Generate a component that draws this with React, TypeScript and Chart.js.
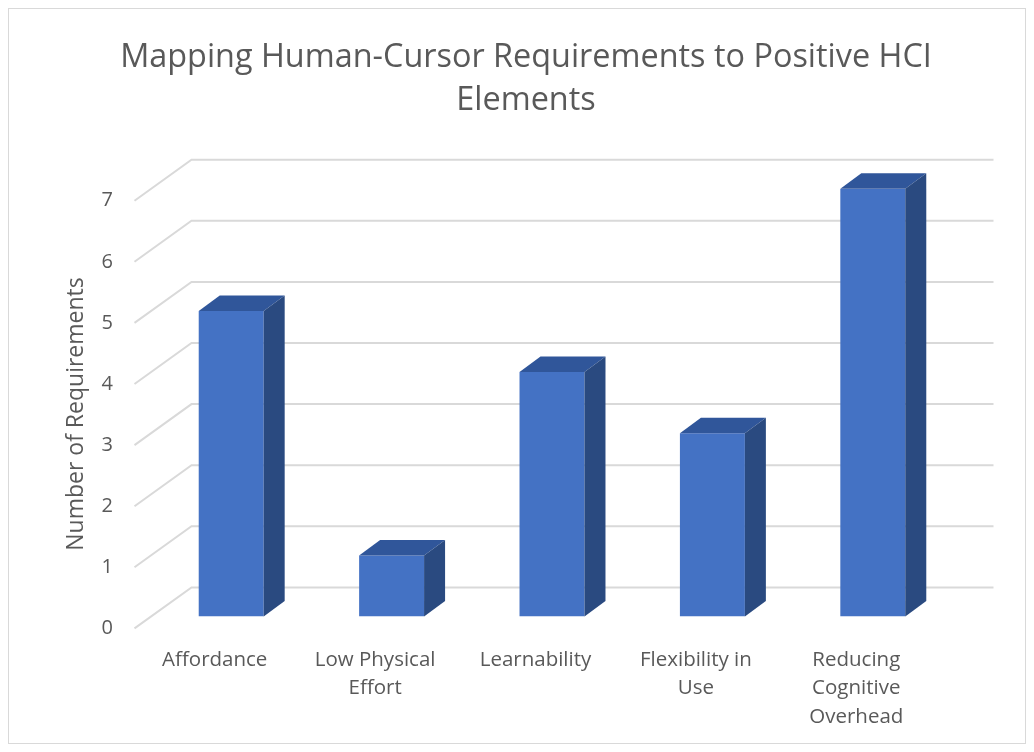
import { useEffect, useRef } from "react";
import { Chart, registerables } from "chart.js";

Chart.register(...registerables);

const categories: string[][] = [
  ["Affordance"],
  ["Low Physical", "Effort"],
  ["Learnability"],
  ["Flexibility in", "Use"],
  ["Reducing", "Cognitive", "Overhead"],
];
const values: number[] = [5, 1, 4, 3, 7];
const yMin = 0;
const yMax = 7;
const yStep = 1;
const titleLines: string[] = ["Mapping Human-Cursor Requirements to Positive HCI", "Elements"];
const yAxisTitle = "Number of Requirements";

const TEXT = "#595959";
const GRID = "#d9d9d9";
const FONT = '"Open Sans", sans-serif';

// depth offsets relative to the bar front plane
const FRONT = { dx: -16.5, dy: 11.9 };
const BACK = { dx: 40.5, dy: -29.1 };
const BAR_D = { dx: 21, dy: -15.5 };

const depthPlugin = {
  id: "depth3d",
  beforeDatasetsDraw(chart: any) {
    const { ctx, chartArea } = chart;
    const ys = chart.scales.y;
    ctx.save();
    ctx.strokeStyle = GRID;
    ctx.lineWidth = 2;
    ys.ticks.forEach((t: any) => {
      const py = ys.getPixelForValue(t.value);
      ctx.beginPath();
      ctx.moveTo(chartArea.left + FRONT.dx, py + FRONT.dy);
      ctx.lineTo(chartArea.left + BACK.dx, py + BACK.dy);
      ctx.lineTo(chartArea.right + BACK.dx, py + BACK.dy);
      ctx.stroke();
    });
    ctx.restore();
  },
  afterDatasetsDraw(chart: any) {
    const { ctx } = chart;
    const meta = chart.getDatasetMeta(0);
    ctx.save();
    meta.data.forEach((bar: any) => {
      const { x, y, base, width } = bar.getProps(["x", "y", "base", "width"], true);
      const l = x - width / 2;
      const r = x + width / 2;
      // top face
      ctx.fillStyle = "#30569a";
      ctx.beginPath();
      ctx.moveTo(l, y);
      ctx.lineTo(r, y);
      ctx.lineTo(r + BAR_D.dx, y + BAR_D.dy);
      ctx.lineTo(l + BAR_D.dx, y + BAR_D.dy);
      ctx.closePath();
      ctx.fill();
      // side face
      ctx.fillStyle = "#2a4a80";
      ctx.beginPath();
      ctx.moveTo(r, y);
      ctx.lineTo(r + BAR_D.dx, y + BAR_D.dy);
      ctx.lineTo(r + BAR_D.dx, base + BAR_D.dy);
      ctx.lineTo(r, base);
      ctx.closePath();
      ctx.fill();
    });
    ctx.restore();
  },
  afterDraw(chart: any) {
    const { ctx } = chart;
    ctx.save();
    ctx.translate(67, 405);
    ctx.rotate(-Math.PI / 2);
    ctx.fillStyle = TEXT;
    ctx.font = `23px ${FONT}`;
    ctx.textAlign = "center";
    ctx.textBaseline = "middle";
    ctx.fillText(yAxisTitle, 0, 0);
    ctx.restore();
  },
};

export default function App() {
  const ref = useRef<HTMLCanvasElement>(null);
  useEffect(() => {
    if (!ref.current) return;
    const chart = new Chart(ref.current, {
      type: "bar",
      data: {
        labels: categories,
        datasets: [
          {
            data: values,
            backgroundColor: "#4472C4",
            categoryPercentage: 0.405,
            barPercentage: 1,
            yAxisID: "y",
          },
        ],
      },
      options: {
        responsive: false,
        animation: false,
        layout: { padding: { left: 18, right: 0, top: 0, bottom: 0 } },
        plugins: {
          legend: { display: false },
          tooltip: { enabled: false },
          title: {
            display: true,
            text: titleLines,
            color: TEXT,
            font: { family: FONT, size: 32.4, weight: "normal", lineHeight: 43 / 32.4 },
            padding: { top: 27.5, bottom: 66.3 },
          },
        },
        scales: {
          x: {
            type: "category",
            offset: true,
            grid: { display: false, drawTicks: false },
            border: { display: false },
            ticks: {
              color: TEXT,
              font: { family: FONT, size: 20.5, lineHeight: 1.39 },
              padding: 29,
              labelOffset: FRONT.dx,
              maxRotation: 0,
              autoSkip: false,
            },
            afterFit(scale: any) {
              scale.height = 126.5;
            },
          },
          y: {
            min: yMin,
            max: yMax,
            grid: { display: false, drawTicks: false },
            border: { display: false },
            ticks: {
              stepSize: yStep,
              color: TEXT,
              font: { family: FONT, size: 20 },
              padding: 38,
              labelOffset: FRONT.dy,
            },
            afterFit(scale: any) {
              scale.width = 124;
            },
          },
          yRightSpace: {
            type: "linear",
            position: "right",
            display: true,
            grid: { display: false, drawTicks: false },
            border: { display: false },
            ticks: { display: false },
            afterFit(scale: any) {
              scale.width = 72;
            },
          },
        },
      },
      plugins: [depthPlugin],
    });
    return () => chart.destroy();
  }, []);
  return (
    <div
      style={{
        width: 1018,
        height: 736,
        border: "1px solid #d9d9d9",
        boxSizing: "border-box",
        background: "#fff",
      }}
    >
      <canvas ref={ref} width={1016} height={734} style={{ display: "block" }} />
    </div>
  );
}
